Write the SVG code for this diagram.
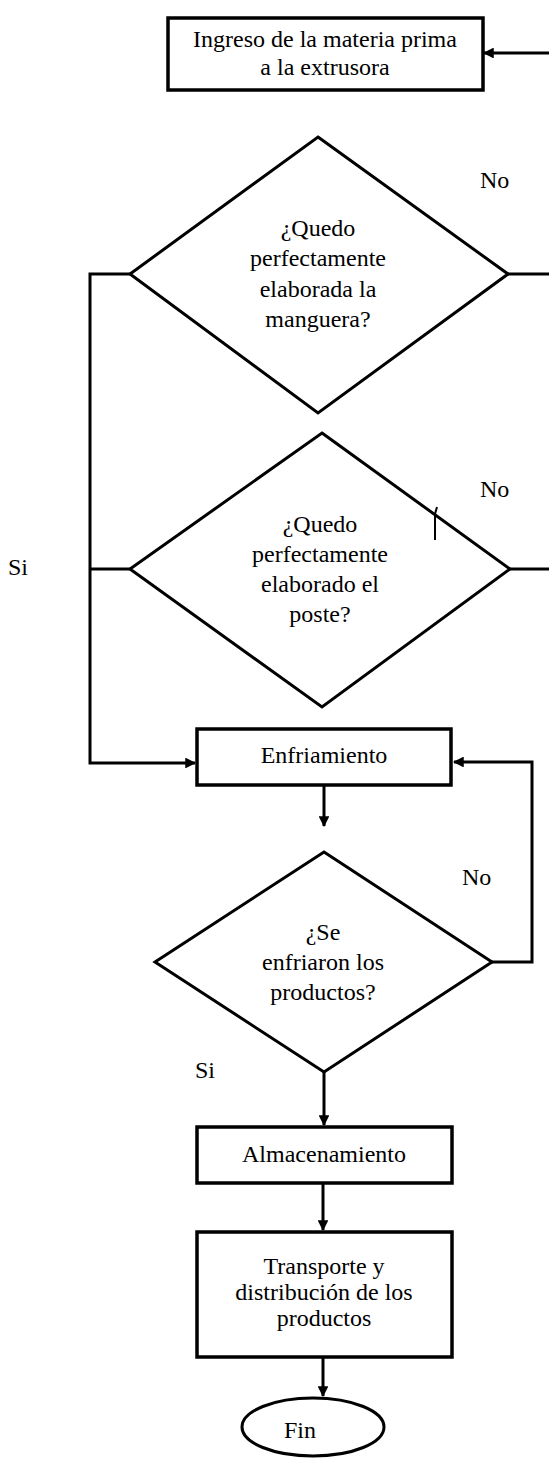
<svg xmlns="http://www.w3.org/2000/svg" width="549" height="1458" viewBox="0 0 549 1458">
<style>
  .shape { fill: #fff; stroke: #000; stroke-width: 3; }
  .box { fill: #fff; stroke: #000; stroke-width: 3.5; }
  .conn { fill: none; stroke: #000; stroke-width: 3; }
  .t { font-family: "Liberation Serif", "Times New Roman", serif; font-size: 24px; fill: #000; text-anchor: middle; }
  .lbl { font-family: "Liberation Serif", "Times New Roman", serif; font-size: 24px; fill: #000; }
</style>
<defs>
  <marker id="arr" viewBox="0 0 10 10" refX="9" refY="5" markerWidth="3.6" markerHeight="3.6" orient="auto" markerUnits="strokeWidth">
    <path d="M0,0 L10,5 L0,10 Z" fill="#000"/>
  </marker>
</defs>
<rect width="549" height="1458" fill="#fff"/>

<g id="connectors">
  <path class="conn" d="M549,53 L484,53" marker-end="url(#arr)"/>
  <path class="conn" d="M508,274 L549,274"/>
  <path class="conn" d="M510,569 L549,569"/>
  <path class="conn" d="M130,274 L90,274 L90,763 L195,763" marker-end="url(#arr)"/>
  <path class="conn" d="M130,569 L90,569"/>
  <path class="conn" d="M324,785 L324,826" marker-end="url(#arr)"/>
  <path class="conn" d="M492,962 L532,962 L532,762 L454,762" marker-end="url(#arr)"/>
  <path class="conn" d="M324,1072 L324,1125" marker-end="url(#arr)"/>
  <path class="conn" d="M323,1183 L323,1230" marker-end="url(#arr)"/>
  <path class="conn" d="M323,1357 L323,1396" marker-end="url(#arr)"/>
</g>

<g id="labels">
  <text class="lbl" x="480" y="188">No</text>
  <text class="lbl" x="480" y="497">No</text>
  <text class="lbl" x="462" y="885">No</text>
  <text class="lbl" x="8" y="575">Si</text>
  <text class="lbl" x="195" y="1078">Si</text>
</g>

<g id="n1">
  <rect class="box" x="168" y="18" width="315" height="72"/>
  <text class="t" x="325" y="47">Ingreso de la materia prima</text>
  <text class="t" x="325" y="75">a la extrusora</text>
</g>

<g id="d1">
  <polygon class="shape" points="318,137 508,274 318,413 130,274"/>
  <text class="t" x="318" y="236">¿Quedo</text>
  <text class="t" x="318" y="266">perfectamente</text>
  <text class="t" x="318" y="297">elaborada la</text>
  <text class="t" x="318" y="327">manguera?</text>
</g>

<g id="d2">
  <polygon class="shape" points="322,433 510,569 322,707 130,569"/>
  <text class="t" x="320" y="532">¿Quedo</text>
  <text class="t" x="320" y="562">perfectamente</text>
  <text class="t" x="320" y="592">elaborado el</text>
  <text class="t" x="320" y="622">poste?</text>
</g>

<g id="mark">
  <path d="M437,507 L435,514 L435,540" fill="none" stroke="#000" stroke-width="2"/>
</g>

<g id="n2">
  <rect class="box" x="197" y="729" width="254" height="56"/>
  <text class="t" x="324" y="763">Enfriamiento</text>
</g>

<g id="d3">
  <polygon class="shape" points="324,852 492,962 324,1072 155,962"/>
  <text class="t" x="323" y="940">¿Se</text>
  <text class="t" x="323" y="970">enfriaron los</text>
  <text class="t" x="323" y="1000">productos?</text>
</g>

<g id="n3">
  <rect class="box" x="197" y="1127" width="255" height="56"/>
  <text class="t" x="324" y="1162">Almacenamiento</text>
</g>

<g id="n4">
  <rect class="box" x="197" y="1232" width="255" height="125"/>
  <text class="t" x="324" y="1274">Transporte y</text>
  <text class="t" x="324" y="1300">distribución de los</text>
  <text class="t" x="324" y="1326">productos</text>
</g>

<g id="n5">
  <ellipse class="shape" cx="313" cy="1427" rx="71" ry="29"/>
  <text class="t" x="300" y="1438">Fin</text>
</g>
</svg>
